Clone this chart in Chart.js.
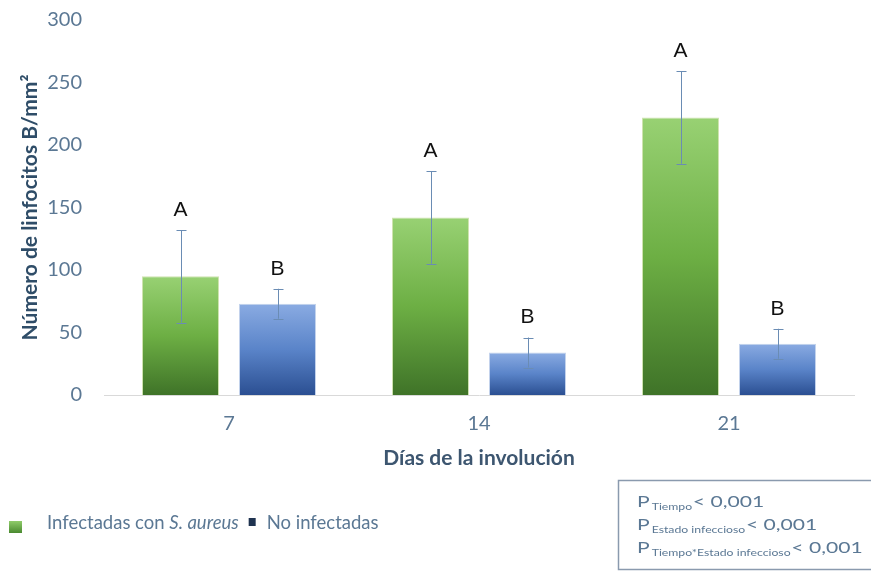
<!DOCTYPE html>
<html>
<head>
<meta charset="utf-8">
<script src="https://cdn.jsdelivr.net/npm/chart.js@4/dist/chart.umd.min.js"></script>
<style>
  html, body { margin: 0; padding: 0; background: #fff; }
  #wrap { width: 871px; height: 571px; position: relative; }
</style>
</head>
<body>
<div id="wrap"><canvas id="c" width="871" height="571"></canvas></div>
<script>
// Values.
const days = ['7', '14', '21'];
const infectedMeans = [95, 142, 222];
const infectedErr = [37, 37, 37];
const controlMeans = [73, 34, 41];
const controlErr = [12, 12, 12];
const infectedLetters = ['A', 'A', 'A'];
const controlLetters = ['B', 'B', 'B'];
const yTicks = [0, 50, 100, 150, 200, 250, 300];
const pLines = [
    ['Tiempo', '< 0,001'],
    ['Estado infeccioso', '< 0,001'],
    ['Tiempo*Estado infeccioso', '< 0,001']
];

const FONT = 'Lato, "Open Sans", sans-serif';
const TEXT = '#5b7894';

// Per-bar vertical gradient, light on top, dark at the base.
function barFill(stops) {
    return function (ctx) {
        const chart = ctx.chart;
        if (!chart.chartArea || ctx.type !== 'data') return stops[1];
        const y = chart.scales.y;
        const top = y.getPixelForValue(ctx.parsed.y);
        const bottom = y.getPixelForValue(0);
        const g = chart.ctx.createLinearGradient(0, top, 0, bottom);
        g.addColorStop(0, stops[0]);
        g.addColorStop(0.5, stops[1]);
        g.addColorStop(1, stops[2]);
        return g;
    };
}

// Error bars + significance letters, then the legend and the P box.
const extras = {
    id: 'extras',
    afterDatasetsDraw(chart) {
        const ctx = chart.ctx;
        const y = chart.scales.y;
        const errs = [infectedErr, controlErr];
        const letters = [infectedLetters, controlLetters];
        ctx.save();
        chart.data.datasets.forEach(function (ds, di) {
            chart.getDatasetMeta(di).data.forEach(function (bar, i) {
                const v = ds.data[i];
                const top = y.getPixelForValue(v + errs[di][i]);
                const bot = y.getPixelForValue(v - errs[di][i]);
                const x = Math.round(bar.x) + 0.5;
                ctx.strokeStyle = '#6a8cb4';
                ctx.lineWidth = 1;
                ctx.beginPath();
                ctx.moveTo(x, top); ctx.lineTo(x, bot);
                ctx.moveTo(x - 5, Math.round(top) + 0.5); ctx.lineTo(x + 5, Math.round(top) + 0.5);
                ctx.moveTo(x - 5, Math.round(bot) + 0.5); ctx.lineTo(x + 5, Math.round(bot) + 0.5);
                ctx.stroke();
                ctx.fillStyle = '#111';
                ctx.font = '21px "Liberation Sans", Arial, sans-serif';
                ctx.textAlign = 'center';
                ctx.textBaseline = 'middle';
                ctx.fillText(letters[di][i], bar.x, top - 20);
            });
        });
        ctx.restore();
    },
    afterDraw(chart) {
        const ctx = chart.ctx;
        ctx.save();
        ctx.textBaseline = 'middle';
        ctx.textAlign = 'left';
        // legend
        const ly = 523;
        const lg = ctx.createLinearGradient(0, 521, 0, 533);
        lg.addColorStop(0, '#8fcc6a'); lg.addColorStop(1, '#4a8a30');
        ctx.fillStyle = lg;
        ctx.fillRect(9, 521, 13, 12);
        ctx.fillStyle = TEXT;
        let x = 47;
        ctx.font = '18.5px ' + FONT;
        const t1 = 'Infectadas con ';
        ctx.fillText(t1, x, ly); x += ctx.measureText(t1).width;
        ctx.font = 'italic 18.5px ' + FONT;
        const t2 = 'S. aureus';
        ctx.fillText(t2, x, ly); x += ctx.measureText(t2).width + 10;
        ctx.fillStyle = '#1f3350';
        ctx.fillRect(x, 518, 7, 8);
        x += 18;
        ctx.fillStyle = TEXT;
        ctx.font = '18.5px ' + FONT;
        ctx.fillText('No infectadas', x, ly);
        // P box (text in the original is stretched wide)
        ctx.strokeStyle = '#8a9aae';
        ctx.lineWidth = 1.5;
        ctx.strokeRect(618.5, 480.5, 260, 89);
        ctx.textBaseline = 'alphabetic';
        ctx.fillStyle = TEXT;
        pLines.forEach(function (ln, i) {
            ctx.save();
            ctx.translate(637, 507 + i * 23);
            ctx.scale(1.36, 1);
            let px = 0;
            ctx.font = '15.5px ' + FONT;
            ctx.fillText('P', px, 0); px += ctx.measureText('P').width + 1.5;
            ctx.font = '9px ' + FONT;
            ctx.fillText(ln[0], px, 3); px += ctx.measureText(ln[0]).width + 0.5;
            ctx.font = '15.5px ' + FONT;
            ctx.fillText(ln[1], px, 0);
            ctx.restore();
        });
        ctx.restore();
    }
};

new Chart(document.getElementById('c'), {
    type: 'bar',
    data: {
        labels: days,
        datasets: [
            {
                label: 'Infectadas con S. aureus',
                data: infectedMeans,
                backgroundColor: barFill(['#98d173', '#6daf44', '#3f7328']),
                borderColor: '#cfe3b0', borderWidth: 1,
                categoryPercentage: 0.776, barPercentage: 0.794
            },
            {
                label: 'No infectadas',
                data: controlMeans,
                backgroundColor: barFill(['#8aabe2', '#5a84c9', '#2b4f92']),
                borderColor: '#c4d3ec', borderWidth: 1,
                categoryPercentage: 0.776, barPercentage: 0.794
            }
        ]
    },
    options: {
        responsive: false,
        animation: false,
        layout: { padding: { left: 0, right: 17, top: 20, bottom: 96 } },
        plugins: { legend: { display: false }, tooltip: { enabled: false } },
        scales: {
            x: {
                grid: { display: false, drawTicks: false },
                border: { display: true, color: '#d9d9d9', width: 1 },
                ticks: { color: TEXT, font: { family: FONT, size: 20 }, padding: 17 },
                title: {
                    display: true, text: 'Días de la involución', color: '#3d5670',
                    font: { family: FONT, size: 21, weight: 'bold' }, padding: { top: 11 }
                },
                afterFit(s) { s.height = 80; }
            },
            y: {
                min: 0, max: 300,
                afterBuildTicks(s) { s.ticks = yTicks.map(function (v) { return { value: v }; }); },
                grid: { display: false, drawTicks: false },
                border: { display: false },
                ticks: { color: TEXT, font: { family: FONT, size: 20 }, padding: 22 },
                title: {
                    display: true, text: 'Número de linfocitos B/mm²', color: '#2f4d68',
                    font: { family: FONT, size: 21, weight: 'bold' }, padding: { top: 18 }
                },
                afterFit(s) { s.width = 104; s.paddingTop = 0; s.paddingBottom = 0; }
            }
        }
    },
    plugins: [extras]
});
</script>
</body>
</html>
